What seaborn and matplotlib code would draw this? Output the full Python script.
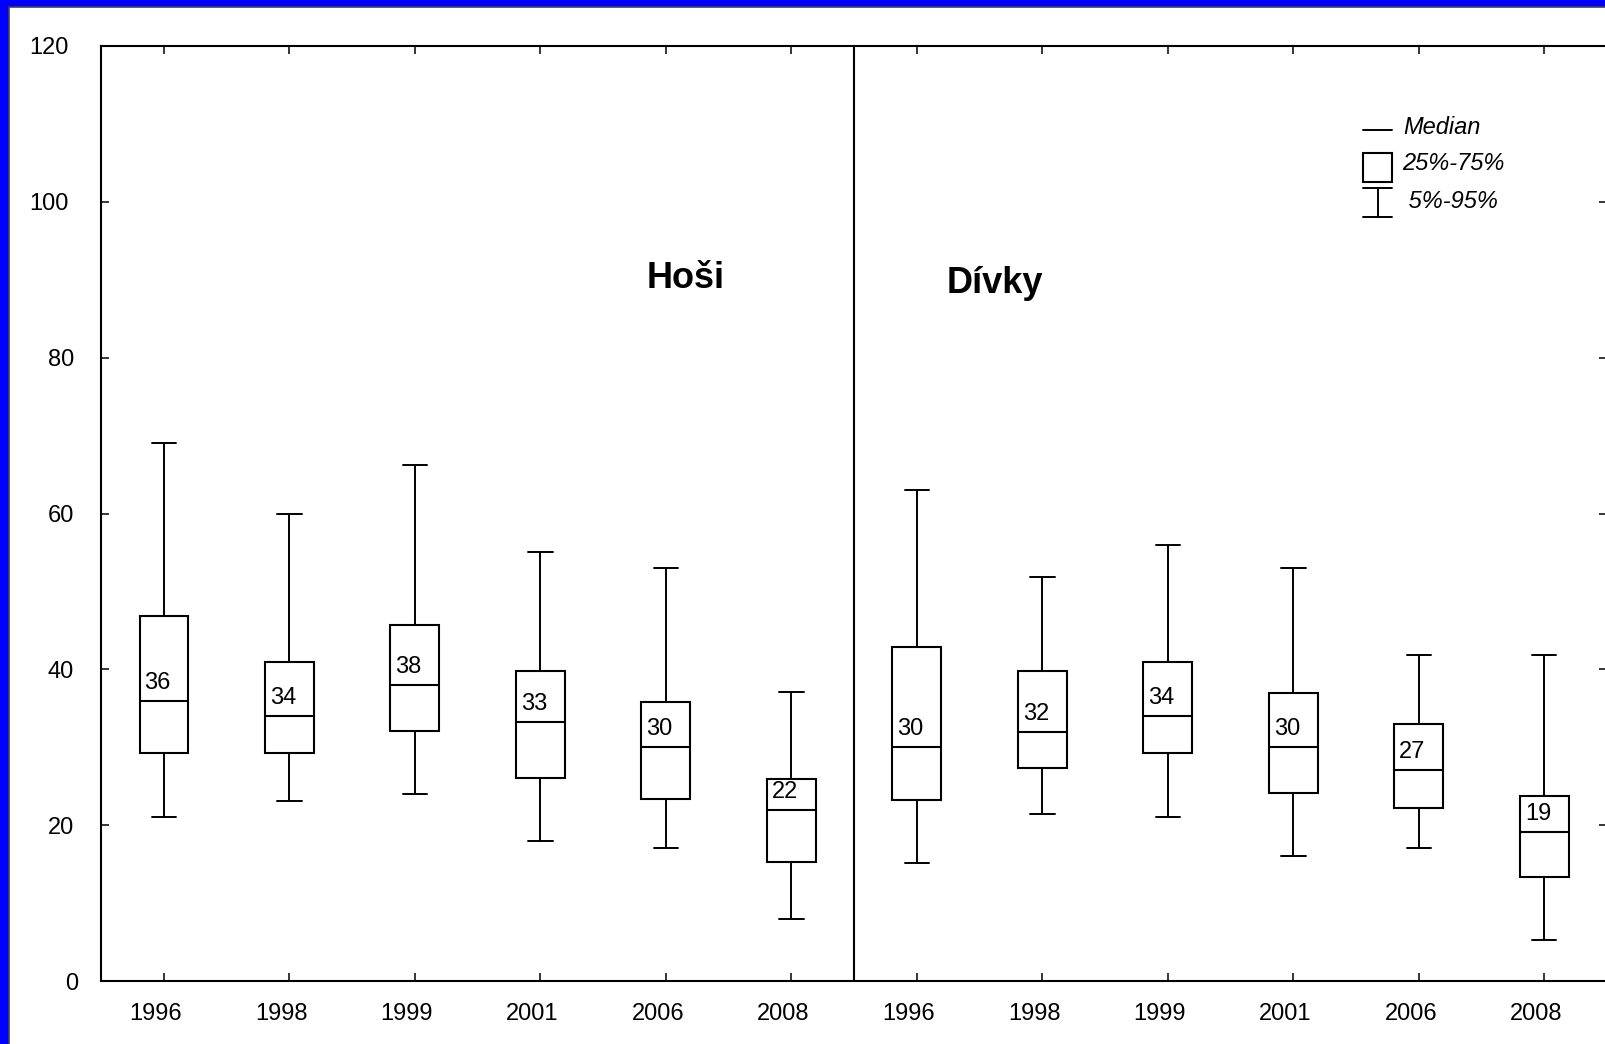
import numpy as np
import pandas as pd
import matplotlib
matplotlib.use("Agg")
import matplotlib.pyplot as plt
import seaborn as sns
from matplotlib.patches import Rectangle
from matplotlib.lines import Line2D
from matplotlib.transforms import ScaledTranslation

# ---------------- data ----------------
years = ["1996", "1998", "1999", "2001", "2006", "2008"]
groups = ["Hoši", "Dívky"]

hosi_p5 = [21.1, 23.1, 24.0, 18.0, 17.1, 8.0]
hosi_q25 = [29.3, 29.3, 32.1, 26.1, 23.3, 15.3]
hosi_med = [36.0, 34.0, 38.0, 33.2, 30.0, 22.0]
hosi_q75 = [46.9, 40.9, 45.7, 39.8, 35.8, 25.9]
hosi_p95 = [69.0, 60.0, 66.2, 55.0, 53.0, 37.1]

divky_p5 = [15.1, 21.4, 21.1, 16.0, 17.1, 5.2]
divky_q25 = [23.2, 27.3, 29.2, 24.1, 22.2, 13.3]
divky_med = [30.0, 32.0, 34.0, 30.0, 27.1, 19.1]
divky_q75 = [42.9, 39.8, 40.9, 36.9, 33.0, 23.8]
divky_p95 = [63.0, 51.9, 55.9, 53.0, 41.9, 41.9]

yticks = [0, 20, 40, 60, 80, 100, 120]
legend_labels = ["Median", "25%-75%", " 5%-95%"]

# long-form table: each box is given by its five summary values
rows = []
order = []
for g, stats in [("Hoši", (hosi_p5, hosi_q25, hosi_med, hosi_q75, hosi_p95)),
                 ("Dívky", (divky_p5, divky_q25, divky_med, divky_q75, divky_p95))]:
    for i, y in enumerate(years):
        key = f"{g} {y}"
        order.append(key)
        for s in stats:
            rows.append({"box": key, "year": y, "group": g, "value": s[i]})
df = pd.DataFrame(rows)
medians = hosi_med + divky_med

# ---------------- figure ----------------
sns.set_theme(style="ticks")
plt.rcParams["font.family"] = ["Liberation Sans", "DejaVu Sans"]
plt.rcParams["text.color"] = "black"
plt.rcParams["axes.labelcolor"] = "black"
plt.rcParams["xtick.color"] = "black"
plt.rcParams["ytick.color"] = "black"

W, H = 1605, 1044
fig = plt.figure(figsize=(W / 100, H / 100), dpi=100)
fig.patch.set_facecolor("#0000FF")
fig.add_artist(Rectangle((9 / W, -0.01), 1.0, 1.01 - 7 / H, transform=fig.transFigure,
                         facecolor="white", edgecolor="#444444", lw=1.2, zorder=-1))

ax = fig.add_axes([101.25 / W, 63 / H, 1505.75 / W, 935 / H])
ax.set_facecolor("white")

lw = 1.5
sns.boxplot(data=df, x="box", y="value", order=order, ax=ax,
            whis=(0, 100), width=0.39, color="white", saturation=1,
            linecolor="black", linewidth=lw, showfliers=False,
            medianprops=dict(color="black", linewidth=lw),
            whiskerprops=dict(color="black", linewidth=1.4),
            capprops=dict(color="black", linewidth=1.4))

ax.set_xlim(-0.5, 11.5)
ax.set_ylim(0, 120)
ax.set_xlabel("")
ax.set_ylabel("")
ax.set_xticks(range(len(order)))
ax.set_xticklabels(years + years)
ax.set_yticks(yticks)
ax.set_yticklabels([str(v) for v in yticks])

for sp in ax.spines.values():
    sp.set_visible(True)
    sp.set_linewidth(1.5)
    sp.set_color("black")

ax.tick_params(axis="both", which="major", direction="in", length=5.5, width=1.1,
               color="black", labelsize=17, labelcolor="black",
               top=True, right=True)
ax.tick_params(axis="x", pad=15.5)
ax.tick_params(axis="y", pad=19.7)

# group divider
ax.axvline(5.5, color="black", lw=1.5, zorder=3)

# median labels
for i, m in enumerate(medians):
    ax.annotate(f"{m:.0f}", xy=(i - 0.195, m), xytext=(3.6, 8.6),
                textcoords="offset points", ha="left", va="baseline",
                fontsize=17, color="black", zorder=5,
                bbox=dict(facecolor="white", edgecolor="none", pad=0.3))

# group titles
ax.text(3.849, 88.9, groups[0], fontsize=26, fontweight="bold", color="black",
        ha="left", va="baseline")
ax.text(6.239, 88.3, groups[1], fontsize=26, fontweight="bold", color="black",
        ha="left", va="baseline")

# tick label fine offsets (in pixels)
dxs = {0: 4.0, 100: -5.0, 120: -5.0}
for t, lab in zip(yticks, ax.get_yticklabels()):
    if t in dxs:
        lab.set_transform(lab.get_transform() + ScaledTranslation(dxs[t] / 100, 0, fig.dpi_scale_trans))
for lab in ax.get_xticklabels():
    lab.set_transform(lab.get_transform() + ScaledTranslation(-8 / 100, 0, fig.dpi_scale_trans))

# legend (drawn in figure pixel space)
def fx(x):
    return x / W

def fy(y):
    return 1 - y / H

tf = fig.transFigure
fig.add_artist(Line2D([fx(1363), fx(1392)], [fy(130), fy(130)], color="black", lw=1.4, transform=tf))
fig.add_artist(Rectangle((fx(1363), fy(182)), fx(1392) - fx(1363), fy(153) - fy(182),
                         transform=tf, facecolor="white", edgecolor="black", lw=1.5))
fig.add_artist(Line2D([fx(1363), fx(1392)], [fy(188), fy(188)], color="black", lw=1.4, transform=tf))
fig.add_artist(Line2D([fx(1363), fx(1392)], [fy(217), fy(217)], color="black", lw=1.4, transform=tf))
fig.add_artist(Line2D([fx(1378), fx(1378)], [fy(188), fy(217)], color="black", lw=1.4, transform=tf))
for txt, x, y in zip(legend_labels, [1403, 1402, 1402], [128, 163, 201]):
    fig.text(fx(x), fy(y), txt, fontsize=17, fontstyle="italic", color="black",
             ha="left", va="center", transform=tf)

fig.savefig("out.png", dpi=100, facecolor=fig.get_facecolor())
